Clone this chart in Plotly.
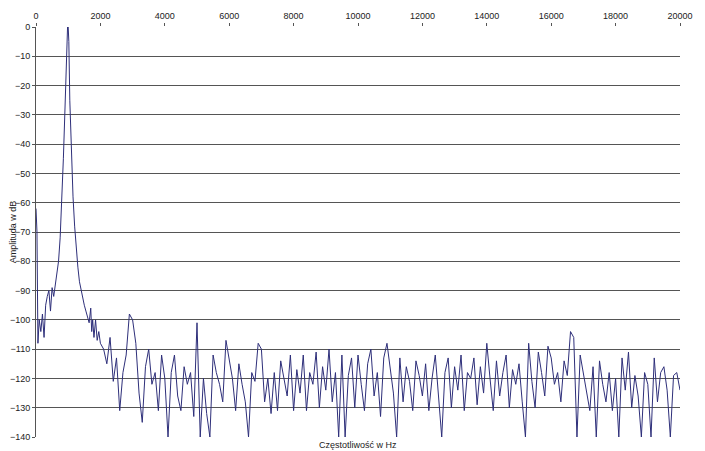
import numpy as np
import plotly.graph_objects as go

# low end + carrier peak around 1 kHz
peak_freq = [0, 30, 60, 100, 150, 200, 250, 300, 350, 400, 450, 500, 550, 600, 650, 700,
             750, 800, 850, 900, 950, 980, 1000, 1020, 1050, 1100, 1150, 1200, 1250, 1300,
             1350, 1400, 1450, 1500, 1550, 1600, 1650, 1700, 1730, 1760, 1800, 1850, 1900,
             1950, 2000]
peak_amp = [-62, -70, -108, -100, -104, -98, -106, -95, -92, -90, -97, -89, -92, -88, -85, -80,
            -72, -60, -45, -28, -8, 0, 0, -5, -25, -45, -58, -68, -76, -82,
            -87, -90, -93, -95, -97, -99, -101, -96, -104, -100, -106, -100, -107,
            -104, -108]

# noise floor, 100 Hz steps from 2100 to 20000 Hz
noise_freq = list(range(2100, 20001, 100))
noise_amp = [
    -110, -115, -106, -121, -113, -131, -118, -112, -98, -100,
    -108, -125, -135, -116, -110, -122, -118, -131, -112, -120,
    -140, -118, -112, -126, -131, -116, -122, -118, -133, -101,
    -140, -120, -132, -140, -112, -118, -122, -128, -107, -113,
    -120, -131, -115, -122, -128, -140, -118, -121, -108, -110,
    -128, -120, -132, -118, -131, -114, -120, -126, -112, -131,
    -117, -125, -112, -131, -118, -122, -111, -130, -116, -124,
    -110, -128, -118, -140, -112, -140, -119, -113, -130, -112,
    -122, -131, -115, -110, -126, -118, -133, -113, -108, -116,
    -125, -140, -113, -128, -116, -121, -131, -114, -119, -126,
    -115, -131, -120, -112, -127, -140, -118, -113, -130, -116,
    -124, -112, -131, -118, -120, -113, -129, -116, -125, -108,
    -120, -131, -114, -126, -118, -112, -130, -117, -122, -115,
    -128, -140, -108, -121, -130, -111, -118, -126, -109, -113,
    -122, -118, -128, -114, -119, -104, -106, -140, -112, -118,
    -125, -131, -116, -140, -114, -122, -128, -118, -131, -120,
    -140, -113, -124, -111, -130, -119, -126, -140, -118, -122,
    -140, -113, -128, -118, -116, -124, -140, -119, -118, -124,
]

freq = peak_freq + noise_freq
amp = peak_amp + noise_amp
x_ticks = list(range(0, 20001, 2000))

fig = go.Figure(go.Scatter(x=freq, y=amp, mode='lines',
                           line=dict(color='#2e2f7a', width=1)))

fig.update_layout(
    width=705, height=451,
    margin=dict(l=28, r=33, t=19, b=22),
    paper_bgcolor='white', plot_bgcolor='white',
    font=dict(family='Arial, Liberation Sans', size=9, color='#222'),
    showlegend=False,
)
fig.update_xaxes(side='top', range=[0, 20000], tickvals=x_ticks,
                 ticktext=[str(t) for t in x_ticks], automargin=False,
                 showgrid=False, zeroline=False, ticks='outside', ticklen=3,
                 tickcolor='#555', showline=False)
fig.update_yaxes(range=[-140, 0], dtick=10, showgrid=True, gridcolor='#555', gridwidth=1,
                 zeroline=False, showline=True, linecolor='#555', ticks='outside',
                 ticklen=3, tickcolor='#555', automargin=False,
                 title=dict(text='Amplituda w dB', standoff=2, font=dict(size=9)))
fig.add_annotation(text='Częstotliwość w Hz', xref='paper', yref='paper', x=0.5, y=0,
                   yanchor='top', yshift=-1, showarrow=False, font=dict(size=9))

fig.write_html("out.html")
